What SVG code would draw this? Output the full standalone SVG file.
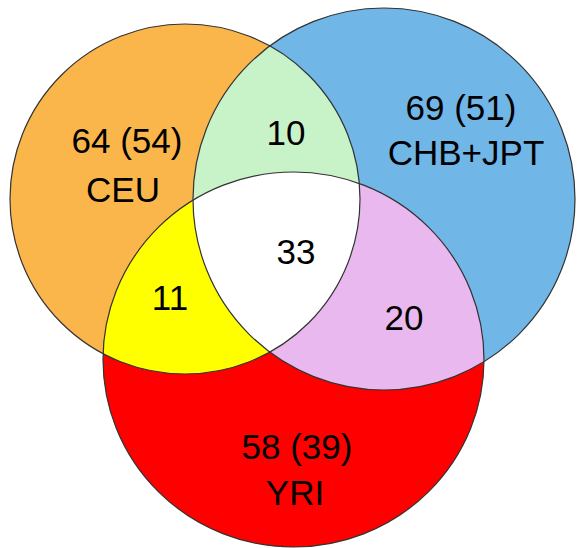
<svg xmlns="http://www.w3.org/2000/svg" width="578" height="548" viewBox="0 0 578 548">
<style>
  .lbl { font-family: "Liberation Sans", Arial, sans-serif; font-size: 35px; fill: #000; text-anchor: middle; }
  .edge { fill: none; stroke: #333; stroke-width: 1.2; }
</style>
<defs>
  <clipPath id="cOrange"><circle cx="185" cy="199" r="175"/></clipPath>
  <clipPath id="cBlue"><circle cx="384" cy="199" r="191"/></clipPath>
  <clipPath id="cRed"><ellipse cx="293.5" cy="359.5" rx="190.5" ry="187.5"/></clipPath>
</defs>
<rect width="578" height="548" fill="#fff"/>
<g id="ceu">
  <circle cx="185" cy="199" r="175" fill="#FAB54B"/>
</g>
<g id="chb-jpt">
  <circle cx="384" cy="199" r="191" fill="#70B7E8"/>
</g>
<g id="yri">
  <ellipse cx="293.5" cy="359.5" rx="190.5" ry="187.5" fill="#FF0000"/>
</g>
<g id="ceu-chb">
  <circle cx="384" cy="199" r="191" fill="#C8F2C8" clip-path="url(#cOrange)"/>
</g>
<g id="ceu-yri">
  <ellipse cx="293.5" cy="359.5" rx="190.5" ry="187.5" fill="#FFFF00" clip-path="url(#cOrange)"/>
</g>
<g id="chb-yri">
  <ellipse cx="293.5" cy="359.5" rx="190.5" ry="187.5" fill="#E9B8EE" clip-path="url(#cBlue)"/>
</g>
<g id="all-three" clip-path="url(#cBlue)">
  <ellipse cx="293.5" cy="359.5" rx="190.5" ry="187.5" fill="#FFFFFF" clip-path="url(#cOrange)"/>
</g>
<g id="outlines">
  <circle class="edge" cx="185" cy="199" r="175"/>
  <circle class="edge" cx="384" cy="199" r="191"/>
  <ellipse class="edge" cx="293.5" cy="359.5" rx="190.5" ry="187.5"/>
</g>
<g id="labels">
  <text class="lbl" x="127" y="153">64 (54)</text>
  <text class="lbl" x="123" y="202">CEU</text>
  <text class="lbl" x="286" y="145">10</text>
  <text class="lbl" x="461" y="120">69 (51)</text>
  <text class="lbl" x="466" y="165">CHB+JPT</text>
  <text class="lbl" x="296" y="264">33</text>
  <text class="lbl" x="170" y="310">11</text>
  <text class="lbl" x="404" y="330">20</text>
  <text class="lbl" x="297" y="459">58 (39)</text>
  <text class="lbl" x="295" y="505">YRI</text>
</g>
</svg>
